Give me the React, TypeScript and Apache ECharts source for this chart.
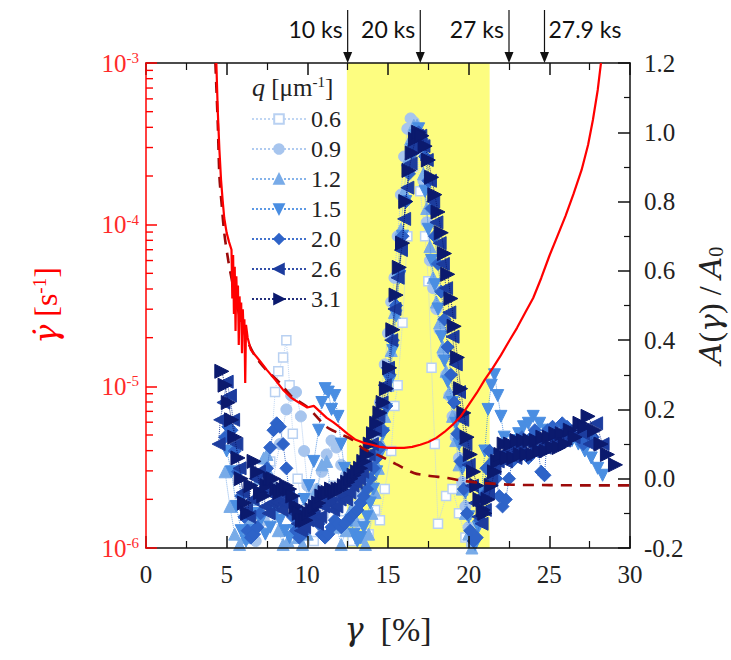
import React, { useEffect, useRef } from "react";
import * as echarts from "echarts";

const SERIF = "Liberation Serif";
const SANS = "Lato";

const xTicks = { min: 0, max: 30, interval: 5 };
const bandRange = [12.45, 21.3];
const arrowX = [12.5, 17.0, 22.5, 24.7];
const arrowLabels = ["10 ks", "20 ks", "27 ks", "27.9 ks"];
const qLabels = ["0.6", "0.9", "1.2", "1.5", "2.0", "2.6", "3.1"];

// shear rate (left log axis)
const rateRed: [number, number][] = [
  [4.36, 1e-3], [4.45, 5.0e-4], [4.55, 2.9e-4], [4.65, 1.9e-4], [4.75, 1.42e-4], [4.85, 1.1e-4],
  [5.0, 8.9e-5], [5.15, 7.8e-5], [5.3, 7.0e-5], [5.35, 3.5e-5], [5.4, 6.5e-5], [5.45, 2.8e-5],
  [5.5, 5.5e-5], [5.55, 2.2e-5], [5.6, 4.8e-5], [5.65, 3.0e-5], [5.7, 4.2e-5], [5.75, 1.8e-5],
  [5.8, 3.6e-5], [5.85, 2.5e-5], [5.9, 3.3e-5], [5.95, 1.6e-5], [6.0, 3.0e-5], [6.05, 2.2e-5],
  [6.1, 2.6e-5], [6.15, 1.05e-5], [6.2, 2.4e-5], [6.3, 2.0e-5], [6.5, 1.68e-5], [7.0, 1.46e-5],
  [7.5, 1.26e-5], [8.0, 1.1e-5], [8.5, 9.5e-6], [9.0, 8.5e-6], [9.5, 7.9e-6], [10.0, 7.4e-6],
  [10.4, 7.57e-6], [10.8, 6.95e-6], [11.2, 6.38e-6], [11.6, 6.0e-6], [12.0, 5.6e-6], [12.5, 5.08e-6],
  [13.0, 4.67e-6], [13.5, 4.47e-6], [14.0, 4.35e-6], [14.5, 4.22e-6], [15.0, 4.16e-6], [15.5, 4.16e-6],
  [16.0, 4.16e-6], [16.5, 4.22e-6], [17.0, 4.35e-6], [17.5, 4.53e-6], [18.0, 4.8e-6], [18.5, 5.22e-6],
  [19.0, 5.77e-6], [19.5, 6.5e-6], [20.0, 7.67e-6], [20.5, 9.1e-6], [21.0, 1.1e-5], [21.5, 1.3e-5],
  [22.0, 1.56e-5], [22.5, 1.9e-5], [23.0, 2.3e-5], [23.5, 2.85e-5], [24.0, 3.52e-5], [24.5, 4.68e-5],
  [25.0, 6.4e-5], [25.5, 8.5e-5], [26.0, 1.13e-4], [26.5, 1.55e-4], [27.0, 2.18e-4], [27.4, 3.11e-4],
  [27.7, 4.44e-4], [28.0, 6.81e-4], [28.2, 1e-3],
];

const rateDashed: [number, number][] = [
  [4.3, 1e-3], [4.45, 4.2e-4], [4.55, 2.0e-4], [4.7, 1.3e-4], [4.85, 8.9e-5], [5.1, 6.0e-5],
  [5.35, 4.4e-5], [5.7, 3.0e-5], [6.0, 2.3e-5], [6.4, 1.8e-5], [6.8, 1.52e-5], [7.5, 1.25e-5],
  [8.3, 1.05e-5], [9.0, 8.7e-6], [10.0, 7.46e-6], [11.2, 5.61e-6], [12.0, 5.1e-6], [12.8, 4.67e-6],
  [13.5, 4.1e-6], [14.5, 3.71e-6], [15.5, 3.3e-6], [16.6, 2.91e-6], [17.5, 2.8e-6], [18.7, 2.71e-6],
  [19.5, 2.62e-6], [20.7, 2.53e-6], [21.5, 2.5e-6], [22.8, 2.46e-6], [25.0, 2.45e-6], [27.0, 2.44e-6],
  [30.0, 2.44e-6],
];

// A(gamma)/A0 for each q (right axis)
const q06: [number, number][] = [
  [7.3, -0.1], [7.7, 0.05], [8.0, 0.25], [8.2, 0.31], [8.5, 0.35], [8.7, 0.4], [8.9, 0.27], [9.1, 0.13],
  [9.4, 0.0], [9.8, -0.12], [10.4, -0.18], [11.0, -0.1], [11.6, -0.02], [12.2, -0.12], [12.8, -0.18],
  [13.3, -0.13], [13.8, -0.16], [14.2, -0.09], [14.5, -0.12], [14.8, -0.03], [15.2, 0.08], [15.4, 0.21],
  [15.6, 0.27], [15.9, 0.45], [16.2, 0.7], [16.5, 0.9], [16.8, 0.96], [17.0, 0.83], [17.3, 0.7],
  [17.5, 0.57], [17.7, 0.32], [17.9, 0.1], [18.1, -0.13], [18.6, -0.05], [19.0, -0.03], [19.4, -0.1],
  [19.8, -0.17],
];

const q09: [number, number][] = [
  [6.8, -0.18], [7.3, -0.12], [7.8, -0.02], [8.3, 0.1], [8.7, 0.2], [9.0, 0.24], [9.3, 0.25], [9.6, 0.18],
  [9.8, 0.08], [10.0, -0.02], [10.3, -0.05], [10.6, -0.03], [10.9, 0.02], [11.2, 0.07], [11.5, 0.11],
  [11.8, 0.09], [12.1, 0.04], [12.4, 0.01], [12.7, -0.04], [13.0, -0.08], [13.3, -0.05], [13.6, 0.0],
  [13.9, 0.06], [14.2, 0.13], [14.5, 0.22], [14.8, 0.33], [15.0, 0.42], [15.2, 0.51], [15.4, 0.58],
  [15.6, 0.7], [15.8, 0.82], [16.0, 0.93], [16.2, 1.01], [16.4, 1.04], [16.6, 1.03], [16.8, 1.0],
  [17.0, 0.95], [17.2, 0.86], [17.4, 0.74], [17.6, 0.63], [17.8, 0.55], [18.0, 0.49], [18.2, 0.43],
  [18.4, 0.36], [18.6, 0.3], [18.8, 0.24], [19.0, 0.18], [19.2, 0.12], [19.4, 0.06], [19.6, -0.01],
  [19.8, -0.08], [20.0, -0.14], [20.2, -0.19],
];

const q12: [number, number][] = [
  [4.9, 0.02], [5.2, -0.08], [5.5, -0.16], [5.8, -0.19], [6.1, -0.17], [6.4, -0.12], [6.7, -0.06],
  [7.0, 0.0], [7.3, 0.06], [7.5, 0.07], [7.7, 0.01], [7.9, -0.08], [8.2, -0.15], [8.5, -0.19],
  [8.8, -0.18], [9.1, -0.15], [9.4, -0.17], [9.7, -0.19], [10.0, -0.16], [10.3, -0.1], [10.6, -0.03],
  [10.9, 0.04], [11.2, 0.05], [11.5, -0.05], [11.8, -0.14], [12.1, -0.19], [12.4, -0.15], [12.7, -0.09],
  [13.0, -0.12], [13.3, -0.17], [13.6, -0.19], [13.8, -0.16], [14.0, -0.1], [14.2, -0.04], [14.4, 0.03],
  [14.6, 0.1], [14.8, 0.18], [15.0, 0.27], [15.2, 0.37], [15.4, 0.48], [15.6, 0.6], [15.8, 0.72],
  [16.0, 0.83], [16.2, 0.92], [16.4, 0.98], [16.6, 1.02], [16.8, 1.02], [17.0, 0.97], [17.2, 0.88],
  [17.4, 0.78], [17.6, 0.67], [17.8, 0.58], [18.0, 0.51], [18.2, 0.45], [18.4, 0.38], [18.6, 0.31],
  [18.8, 0.25], [19.0, 0.18], [19.2, 0.11], [19.4, 0.04], [19.6, -0.03], [19.8, -0.1], [20.0, -0.16],
  [20.2, -0.2],
];

const q15: [number, number][] = [
  [5.0, 0.08], [5.3, 0.02], [5.6, -0.08], [5.9, -0.15], [6.2, -0.18], [6.5, -0.15], [6.8, -0.1],
  [7.1, -0.12], [7.4, -0.16], [7.7, -0.14], [8.0, -0.1], [8.3, -0.12], [8.6, -0.15], [8.9, -0.17],
  [9.2, -0.15], [9.5, -0.1], [9.8, -0.06], [10.1, -0.02], [10.4, 0.05], [10.7, 0.14], [10.9, 0.22],
  [11.1, 0.26], [11.3, 0.25], [11.5, 0.2], [11.7, 0.24], [11.9, 0.18], [12.1, 0.1], [12.3, 0.03],
  [12.5, -0.05], [12.7, -0.12], [12.9, -0.16], [13.1, -0.18], [13.3, -0.17], [13.5, -0.14], [13.7, -0.11],
  [13.9, -0.07], [14.1, -0.03], [14.3, 0.02], [14.5, 0.07], [14.7, 0.13], [14.9, 0.2], [15.1, 0.28],
  [15.3, 0.37], [15.5, 0.47], [15.7, 0.58], [15.9, 0.7], [16.1, 0.8], [16.3, 0.89], [16.5, 0.95],
  [16.7, 0.99], [16.9, 1.01], [17.1, 0.96], [17.3, 0.83], [17.5, 0.72], [17.7, 0.63], [17.9, 0.56],
  [18.1, 0.49], [18.3, 0.41], [18.5, 0.34], [18.7, 0.28], [19.0, 0.22], [19.2, 0.16], [19.4, 0.1],
  [19.6, 0.03], [19.8, -0.04], [20.0, -0.11], [20.2, -0.17], [20.4, -0.19], [20.6, -0.14], [20.8, -0.04],
  [21.0, 0.08], [21.2, 0.2], [21.4, 0.27], [21.6, 0.3], [21.8, 0.24], [22.0, 0.18], [22.2, 0.12],
  [22.5, 0.08], [22.8, 0.11], [23.1, 0.13], [23.4, 0.15], [23.7, 0.16], [24.0, 0.18], [24.4, 0.16],
  [24.8, 0.14], [25.2, 0.12], [25.6, 0.11], [26.0, 0.13], [26.4, 0.11], [26.8, 0.1], [27.2, 0.08],
  [27.6, 0.06], [28.0, 0.03], [28.3, 0.01],
];

const q20: [number, number][] = [
  [4.9, 0.12], [5.1, 0.15], [5.3, 0.14], [5.5, 0.08], [5.7, 0.02], [5.9, -0.05], [6.1, -0.11],
  [6.3, -0.15], [6.5, -0.17], [6.7, -0.16], [6.9, -0.14], [7.1, -0.1], [7.3, -0.04], [7.5, 0.03],
  [7.7, 0.09], [7.9, 0.14], [8.1, 0.16], [8.3, 0.15], [8.5, 0.1], [8.7, 0.03], [8.9, -0.05],
  [9.1, -0.11], [9.3, -0.15], [9.5, -0.17], [9.7, -0.16], [9.9, -0.13], [10.1, -0.1], [10.3, -0.09],
  [10.5, -0.11], [10.7, -0.13], [10.9, -0.16], [11.1, -0.17], [11.3, -0.16], [11.5, -0.14], [11.7, -0.12],
  [11.9, -0.13], [12.1, -0.14], [12.3, -0.13], [12.5, -0.12], [12.7, -0.11], [12.9, -0.1], [13.1, -0.09],
  [13.3, -0.07], [13.5, -0.05], [13.7, -0.03], [13.9, 0.0], [14.1, 0.03], [14.3, 0.06], [14.5, 0.09],
  [14.7, 0.14], [14.9, 0.21], [15.1, 0.3], [15.3, 0.4], [15.5, 0.5], [15.7, 0.6], [15.9, 0.7],
  [16.1, 0.8], [16.3, 0.88], [16.5, 0.94], [16.7, 0.98], [16.9, 1.0], [17.1, 0.98], [17.3, 0.93],
  [17.5, 0.86], [17.7, 0.78], [17.9, 0.7], [18.1, 0.62], [18.3, 0.54], [18.5, 0.46], [18.7, 0.38],
  [18.9, 0.3], [19.1, 0.22], [19.3, 0.13], [19.5, 0.05], [19.7, -0.03], [19.9, -0.1], [20.1, -0.15],
  [20.3, -0.18], [20.5, -0.17], [20.7, -0.12], [20.9, -0.05], [21.1, 0.03], [21.3, 0.08], [21.5, 0.05],
  [21.7, 0.0], [21.9, -0.05], [22.1, -0.08], [22.3, -0.06], [22.5, 0.0], [22.7, 0.05], [22.9, 0.08],
  [23.1, 0.1], [23.3, 0.12], [23.5, 0.11], [23.7, 0.06], [23.9, 0.12], [24.1, 0.14], [24.3, 0.08],
  [24.5, 0.02], [24.7, 0.01], [24.9, 0.14], [25.2, 0.15], [25.5, 0.1], [25.8, 0.16], [26.1, 0.15],
  [26.4, 0.13], [26.8, 0.12], [27.1, 0.1], [27.4, 0.11], [27.7, 0.12],
];

const q26: [number, number][] = [
  [4.5, 0.1], [4.6, 0.17], [4.8, 0.22], [5.0, 0.28], [5.2, 0.24], [5.4, 0.17], [5.6, 0.1], [5.8, 0.03],
  [6.0, -0.04], [6.2, -0.09], [6.4, -0.11], [6.6, -0.06], [6.8, 0.0], [7.0, 0.02], [7.2, -0.03],
  [7.4, -0.08], [7.6, -0.1], [7.8, -0.07], [8.0, -0.05], [8.2, -0.07], [8.4, -0.09], [8.6, -0.07],
  [8.8, -0.05], [9.0, -0.07], [9.2, -0.1], [9.4, -0.13], [9.6, -0.15], [9.8, -0.14], [10.0, -0.12],
  [10.2, -0.1], [10.4, -0.11], [10.6, -0.13], [10.8, -0.11], [11.0, -0.08], [11.2, -0.06], [11.4, -0.07],
  [11.6, -0.09], [11.8, -0.08], [12.0, -0.06], [12.2, -0.05], [12.4, -0.06], [12.6, -0.04], [12.8, -0.02],
  [13.0, -0.01], [13.2, 0.0], [13.4, 0.02], [13.6, 0.04], [13.8, 0.07], [14.0, 0.1], [14.2, 0.14],
  [14.4, 0.18], [14.6, 0.22], [14.8, 0.27], [15.0, 0.32], [15.2, 0.4], [15.4, 0.49], [15.6, 0.58],
  [15.8, 0.66], [16.0, 0.75], [16.2, 0.84], [16.4, 0.91], [16.6, 0.96], [16.8, 0.99], [17.0, 0.99],
  [17.2, 0.96], [17.4, 0.92], [17.6, 0.86], [17.8, 0.8], [18.0, 0.74], [18.2, 0.68], [18.4, 0.62],
  [18.6, 0.55], [18.8, 0.48], [19.0, 0.41], [19.2, 0.33], [19.4, 0.25], [19.6, 0.17], [19.8, 0.1],
  [20.0, 0.04], [20.2, -0.02], [20.4, -0.07], [20.6, -0.11], [20.8, -0.13], [21.0, -0.09], [21.2, -0.04],
  [21.4, 0.0], [21.6, 0.03], [21.8, 0.05], [22.0, 0.07], [22.3, 0.05], [22.6, 0.08], [22.9, 0.06],
  [23.2, 0.09], [23.5, 0.07], [23.8, 0.1], [24.1, 0.08], [24.4, 0.11], [24.7, 0.09], [25.0, 0.12],
  [25.3, 0.1], [25.6, 0.13], [25.9, 0.11], [26.2, 0.14], [26.5, 0.12], [26.8, 0.15], [27.1, 0.13],
  [27.5, 0.1], [27.9, 0.16], [28.3, 0.1],
];

const q31: [number, number][] = [
  [4.7, 0.31], [4.9, 0.27], [5.1, 0.22], [5.3, 0.17], [5.5, 0.12], [5.7, 0.06], [5.9, 0.0], [6.1, -0.07],
  [6.3, -0.1], [6.5, -0.02], [6.7, 0.05], [6.9, 0.02], [7.1, -0.04], [7.3, -0.05], [7.5, -0.02],
  [7.7, 0.0], [7.9, 0.0], [8.1, -0.03], [8.3, -0.04], [8.5, -0.03], [8.7, -0.02], [8.9, -0.03],
  [9.1, -0.05], [9.3, -0.08], [9.5, -0.1], [9.7, -0.12], [9.9, -0.12], [10.1, -0.1], [10.3, -0.09],
  [10.5, -0.08], [10.7, -0.07], [10.9, -0.05], [11.1, -0.04], [11.3, -0.04], [11.5, -0.03], [11.7, -0.04],
  [11.9, -0.03], [12.1, -0.03], [12.3, -0.02], [12.5, -0.01], [12.7, 0.0], [12.9, 0.01], [13.1, 0.02],
  [13.3, 0.03], [13.5, 0.05], [13.7, 0.07], [13.9, 0.1], [14.1, 0.13], [14.3, 0.16], [14.5, 0.19],
  [14.7, 0.22], [14.9, 0.26], [15.1, 0.32], [15.3, 0.43], [15.5, 0.53], [15.7, 0.61], [15.9, 0.68],
  [16.1, 0.8], [16.3, 0.89], [16.5, 0.94], [16.7, 0.98], [16.9, 1.0], [17.1, 0.99], [17.3, 0.96],
  [17.5, 0.92], [17.7, 0.87], [17.9, 0.82], [18.1, 0.77], [18.3, 0.71], [18.5, 0.65], [18.7, 0.59],
  [18.9, 0.52], [19.1, 0.44], [19.3, 0.35], [19.5, 0.26], [19.7, 0.19], [19.9, 0.12], [20.1, 0.07],
  [20.3, 0.02], [20.5, -0.02], [20.7, -0.06], [20.9, -0.09], [21.0, -0.1], [21.2, -0.06], [21.4, -0.02],
  [21.6, 0.02], [21.8, 0.05], [22.0, 0.07], [22.2, 0.1], [22.4, 0.06], [22.6, 0.1], [22.8, 0.06],
  [23.0, 0.11], [23.2, 0.07], [23.4, 0.11], [23.6, 0.07], [23.8, 0.11], [24.0, 0.07], [24.2, 0.11],
  [24.4, 0.08], [24.6, 0.12], [24.8, 0.08], [25.0, 0.12], [25.2, 0.09], [25.4, 0.13], [25.6, 0.09],
  [25.8, 0.13], [26.0, 0.1], [26.3, 0.14], [26.6, 0.12], [26.9, 0.16], [27.2, 0.15], [27.4, 0.18],
  [27.8, 0.14], [28.2, 0.1], [28.6, 0.07], [29.1, 0.04],
];

const qData = [q06, q09, q12, q15, q20, q26, q31];
const qColors = ["#b9d1f2", "#a7c5ee", "#78abe8", "#4a8ee2", "#2e63c8", "#1c3c9e", "#0b1a6e"];
const qSymbols = ["rect", "circle", "triangle", "triangle", "diamond", "triangle", "triangle"];
const qRotate = [0, 0, 0, 180, 0, 90, -90];
const qSizes = [9, 11, 12, 12, 13, 13, 14];

const logDecades = [1e-6, 1e-5, 1e-4];
const logMultipliers = [2, 3, 4, 5, 6, 7, 8, 9];

export default function App() {
  const ref = useRef<HTMLDivElement>(null);
  useEffect(() => {
    if (!ref.current) return;
    const chart = echarts.init(ref.current, undefined, { renderer: "svg" });
    const minorLogTicks: number[] = [];
    logDecades.forEach((d) => logMultipliers.forEach((m) => minorLogTicks.push(m * d)));

    const blueSeries = qLabels.map((name, i) => ({
      name,
      type: "line",
      xAxisIndex: 0,
      yAxisIndex: 1,
      data: qData[i],
      symbol: qSymbols[i],
      symbolRotate: qRotate[i],
      symbolSize: qSizes[i],
      showSymbol: true,
      clip: true,
      z: 3 + i,
      lineStyle: { color: qColors[i], width: 1, type: "dotted", opacity: 0.9 },
      itemStyle:
        i === 0
          ? { color: "#ffffff", borderColor: qColors[i], borderWidth: 1.5 }
          : { color: qColors[i], borderColor: qColors[i], borderWidth: 1 },
      silent: true,
    }));

    const option: any = {
      animation: false,
      grid: { left: 146, right: 101, top: 63, bottom: 112, containLabel: false, outerBoundsMode: "none" },
      legend: {
        data: qLabels,
        orient: "vertical",
        left: 246,
        top: 102,
        itemWidth: 54,
        itemHeight: 12,
        itemGap: 6,
        selectedMode: false,
        textStyle: { fontFamily: SERIF, fontSize: 24, color: "#222", lineHeight: 24 },
      },
      xAxis: [
        {
          type: "value",
          min: xTicks.min,
          max: xTicks.max,
          interval: xTicks.interval,
          position: "bottom",
          z: 10,
          axisLine: { show: true, onZero: false, lineStyle: { color: "#111", width: 1.5 } },
          axisTick: { inside: true, length: 12, lineStyle: { color: "#111", width: 1.5 } },
          minorTick: { show: true, splitNumber: 2, length: 7, lineStyle: { color: "#111", width: 1.2 } },
          splitLine: { show: false },
          axisLabel: { fontFamily: SERIF, fontSize: 25, color: "#222", margin: 14 },
          name: "{g|γ}  [%]",
          nameLocation: "middle",
          nameGap: 64,
          nameTextStyle: {
            rich: {
              g: { fontFamily: "DejaVu Serif", fontStyle: "italic", fontSize: 32, color: "#222" },
            },
            fontFamily: SERIF,
            fontSize: 34,
            color: "#222",
          },
        },
        {
          type: "value",
          min: xTicks.min,
          max: xTicks.max,
          interval: xTicks.interval,
          position: "top",
          z: 10,
          axisLine: { show: true, onZero: false, lineStyle: { color: "#111", width: 1.5 } },
          axisTick: { inside: true, length: 12, lineStyle: { color: "#111", width: 1.5 } },
          minorTick: { show: true, splitNumber: 2, length: 7, lineStyle: { color: "#111", width: 1.2 } },
          splitLine: { show: false },
          axisLabel: { show: false },
        },
      ],
      yAxis: [
        {
          type: "log",
          logBase: 10,
          min: 1e-6,
          max: 1e-3,
          position: "left",
          z: 11,
          axisLine: { show: true, onZero: false, lineStyle: { color: "#ff0000", width: 1.5 } },
          axisTick: { inside: true, length: 11, lineStyle: { color: "#ff0000", width: 1.5 } },
          splitLine: { show: false },
          axisLabel: {
            margin: 7,
            formatter: (v: number) => "{b|10}{s|" + Math.round(Math.log10(v)) + "}",
            rich: {
              b: { fontFamily: SERIF, fontSize: 25, color: "#ff2a2a" },
              s: { fontFamily: SERIF, fontSize: 15, color: "#ff2a2a", verticalAlign: "top" },
            },
          },
          name: "{g|γ̇} [s{s|-1}]",
          nameLocation: "middle",
          nameRotate: 90,
          nameGap: 84,
          nameTextStyle: {
            fontFamily: SERIF,
            fontSize: 32,
            color: "#ff0000",
            rich: {
              g: { fontFamily: "DejaVu Serif", fontStyle: "italic", fontSize: 32, color: "#ff0000" },
              s: { fontFamily: SERIF, fontSize: 19, color: "#ff0000", verticalAlign: "top" },
            },
          },
        },
        {
          type: "value",
          min: -0.2,
          max: 1.2,
          interval: 0.2,
          position: "right",
          z: 10,
          axisLine: { show: true, onZero: false, lineStyle: { color: "#111", width: 1.5 } },
          axisTick: { inside: true, length: 12, lineStyle: { color: "#111", width: 1.5 } },
          minorTick: { show: true, splitNumber: 2, length: 6, lineStyle: { color: "#111", width: 1.2 } },
          splitLine: { show: false },
          axisLabel: {
            fontFamily: SERIF,
            fontSize: 25,
            color: "#222",
            margin: 14,
            formatter: (v: number) => v.toFixed(1),
          },
          name: "{i|A}({i|γ}) / {i|A}{sub|0}",
          nameLocation: "middle",
          nameRotate: 90,
          nameGap: 52,
          nameTextStyle: {
            fontFamily: SERIF,
            fontSize: 32,
            color: "#222",
            rich: {
              i: { fontFamily: "DejaVu Serif", fontStyle: "italic", fontSize: 30, color: "#222" },
              sub: { fontFamily: SERIF, fontSize: 20, color: "#222", verticalAlign: "bottom" },
            },
          },
        },
      ],
      series: [
        {
          name: "band",
          type: "line",
          xAxisIndex: 0,
          yAxisIndex: 1,
          data: [],
          z: 1,
          silent: true,
          markArea: {
            silent: true,
            itemStyle: { color: "#fdfd80" },
            data: [[{ xAxis: bandRange[0] }, { xAxis: bandRange[1] }]],
          },
        },
        {
          name: "logMinor",
          type: "custom",
          xAxisIndex: 0,
          yAxisIndex: 0,
          data: minorLogTicks.map((v) => [xTicks.min, v]),
          silent: true,
          z: 12,
          clip: false,
          renderItem: (params: any, api: any) => {
            const p = api.coord([api.value(0), api.value(1)]);
            return {
              type: "line",
              shape: { x1: p[0], y1: p[1], x2: p[0] + 7, y2: p[1] },
              style: { stroke: "#ff0000", lineWidth: 1.4 },
            };
          },
        },
        ...blueSeries,
        {
          name: "rateDashed",
          type: "line",
          xAxisIndex: 0,
          yAxisIndex: 0,
          data: rateDashed,
          showSymbol: false,
          symbol: "none",
          smooth: 0.3,
          clip: true,
          z: 20,
          silent: true,
          lineStyle: { color: "#9c0a0a", width: 2.6, type: [11, 8] },
        },
        {
          name: "rate",
          type: "line",
          xAxisIndex: 0,
          yAxisIndex: 0,
          data: rateRed,
          showSymbol: false,
          symbol: "none",
          clip: true,
          z: 21,
          silent: true,
          lineStyle: { color: "#ff0000", width: 2.2 },
        },
      ],
    };
    chart.setOption(option);

    const graphics: any[] = [
      {
        type: "text",
        left: 252,
        top: 74,
        style: {
          text: "{i|q} [μm{s|-1}]",
          fill: "#222",
          font: `25px ${SERIF}`,
          rich: {
            i: { fontFamily: SERIF, fontStyle: "italic", fontSize: 26, fill: "#222" },
            s: { fontFamily: SERIF, fontSize: 15, fill: "#222", verticalAlign: "top" },
          },
        },
      },
    ];
    arrowX.forEach((xv, i) => {
      const px = chart.convertToPixel({ xAxisIndex: 0 }, xv) as number;
      const topY = 10;
      const tipY = 63;
      graphics.push({
        type: "line",
        shape: { x1: px, y1: topY, x2: px, y2: tipY - 8 },
        style: { stroke: "#111", lineWidth: 1.2 },
        z: 30,
      });
      graphics.push({
        type: "polygon",
        shape: { points: [[px - 4.5, tipY - 11], [px + 4.5, tipY - 11], [px, tipY]] },
        style: { fill: "#111" },
        z: 30,
      });
      const rightSide = i === arrowX.length - 1;
      graphics.push({
        type: "text",
        x: rightSide ? px + 4 : px - 5,
        y: 29,
        style: {
          text: arrowLabels[i],
          fill: "#111",
          font: `23px ${SANS}`,
          align: rightSide ? "left" : "right",
          verticalAlign: "middle",
        },
        z: 30,
      });
    });
    chart.setOption({ graphic: graphics });

    return () => chart.dispose();
  }, []);
  return (
    <div
      ref={ref}
      style={{ position: "absolute", left: 0, top: 0, width: 731, height: 660 }}
    />
  );
}
